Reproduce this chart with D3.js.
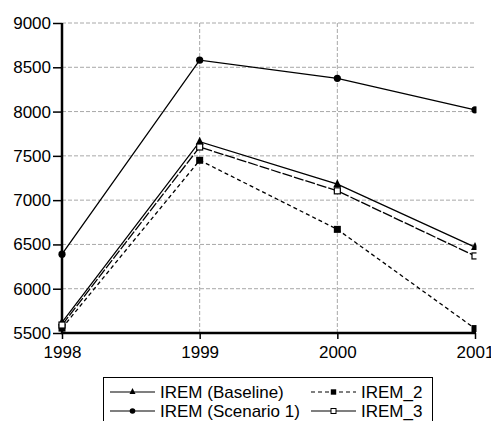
<!DOCTYPE html>
<html><head><meta charset="utf-8">
<script src="https://cdn.jsdelivr.net/npm/d3@7"></script>
<style>body{margin:0;background:#fff}svg{display:block;font-family:"Liberation Sans",Arial,sans-serif}</style>
</head><body><svg id="c" width="491" height="421"></svg>
<script>
const years = [1998, 1999, 2000, 2001];
const yTicks = [5500, 6000, 6500, 7000, 7500, 8000, 8500, 9000];
const baseline = [5620, 7660, 7180, 6470];
const scenario1 = [6390, 8580, 8375, 8020];
const irem2 = [5555, 7450, 6670, 5550];
const irem3 = [5590, 7600, 7105, 6370];
const seriesNames = ["IREM (Baseline)", "IREM (Scenario 1)", "IREM_2", "IREM_3"];

const series = [
  {name: seriesNames[0], values: baseline, dash: null, marker: "tri"},
  {name: seriesNames[1], values: scenario1, dash: null, marker: "circle"},
  {name: seriesNames[2], values: irem2, dash: "4,3", marker: "sq"},
  {name: seriesNames[3], values: irem3, dash: "10,2", marker: "osq"}
];

const FS = 17;
const svg = d3.select("#c");
const x = d3.scaleLinear().domain([1998, 2001]).range([62, 475]);
const y = d3.scaleLinear().domain([5500, 9000]).range([333, 23]);

// grid
const g = svg.append("g");
g.selectAll(".hg").data(yTicks.slice(1)).join("line")
  .attr("x1", 62).attr("x2", 475).attr("y1", d => y(d)).attr("y2", d => y(d))
  .attr("stroke", "#a8a8a8").attr("stroke-width", 1).attr("stroke-dasharray", "4,2");
g.selectAll(".vg").data(years.slice(1, 3)).join("line")
  .attr("x1", d => x(d)).attr("x2", d => x(d)).attr("y1", y(9000)).attr("y2", 333)
  .attr("stroke", "#a8a8a8").attr("stroke-width", 1).attr("stroke-dasharray", "4,2");

// axes
const ya = svg.append("g").attr("transform", "translate(62,0)")
  .call(d3.axisLeft(y).tickValues(yTicks).tickSize(9).tickPadding(2).tickFormat(d3.format("d")));
const xa = svg.append("g").attr("transform", "translate(0,333)")
  .call(d3.axisBottom(x).tickValues(years).tickSize(6).tickPadding(7).tickFormat(d3.format("d")));
[ya, xa].forEach(a => {
  a.select(".domain").remove();
  a.attr("font-size", FS).attr("font-family", "Liberation Sans, Arial, sans-serif");
  a.selectAll("text").attr("fill", "#000");
  a.selectAll("line").attr("stroke", "#000").attr("stroke-width", 1.5);
});
svg.append("line").attr("x1", 62).attr("x2", 62).attr("y1", y(9000)).attr("y2", 334).attr("stroke", "#000").attr("stroke-width", 2.5);
svg.append("line").attr("x1", 61).attr("x2", 476).attr("y1", 333).attr("y2", 333).attr("stroke", "#000").attr("stroke-width", 2.5);

// clip
svg.append("clipPath").attr("id", "clip").append("rect").attr("x", 0).attr("y", 0).attr("width", 476.5).attr("height", 421);
const plot = svg.append("g").attr("clip-path", "url(#clip)");

function drawMarker(sel, type, cx, cy) {
  if (type === "tri") {
    sel.append("path").attr("d", `M${cx},${cy-5}L${cx+4},${cy+3}L${cx-4},${cy+3}Z`).attr("fill", "#000");
  } else if (type === "circle") {
    sel.append("circle").attr("cx", cx).attr("cy", cy).attr("r", 3.6).attr("fill", "#000");
  } else if (type === "sq") {
    sel.append("rect").attr("x", cx-3.5).attr("y", cy-3.5).attr("width", 7).attr("height", 7).attr("fill", "#000");
  } else {
    sel.append("rect").attr("x", cx-3).attr("y", cy-3).attr("width", 6).attr("height", 6).attr("fill", "#fff").attr("stroke", "#000").attr("stroke-width", 1.2);
  }
}

const line = d3.line().x((d, i) => x(years[i])).y(d => y(d));
series.forEach(s => {
  plot.append("path").attr("d", line(s.values)).attr("fill", "none").attr("stroke", "#000")
    .attr("stroke-width", 1.3).attr("stroke-dasharray", s.dash);
});
series.forEach(s => {
  s.values.forEach((v, i) => drawMarker(plot, s.marker, x(years[i]), y(v)));
});

// legend
const lg = svg.append("g");
lg.append("rect").attr("x", 103.5).attr("y", 377.5).attr("width", 329).attr("height", 60).attr("fill", "#fff").attr("stroke", "#000").attr("stroke-width", 1);
const pos = [[110, 392], [110, 411], [311, 392], [311, 411]];
series.forEach((s, i) => {
  const [lx, ly] = pos[i];
  const len = 45;
  lg.append("line").attr("x1", lx).attr("x2", lx + len).attr("y1", ly).attr("y2", ly)
    .attr("stroke", "#000").attr("stroke-width", 1.1).attr("stroke-dasharray", i === 2 ? "4,3" : null);
  const m = lg.append("g");
  const mx = lx + len / 2;
  if (s.marker === "tri") m.append("path").attr("d", `M${mx},${ly-4}L${mx+3},${ly+2}L${mx-3},${ly+2}Z`).attr("fill", "#000");
  else if (s.marker === "circle") m.append("circle").attr("cx", mx).attr("cy", ly).attr("r", 2.8).attr("fill", "#000");
  else if (s.marker === "sq") m.append("rect").attr("x", mx-2.7).attr("y", ly-2.7).attr("width", 5.4).attr("height", 5.4).attr("fill", "#000");
  else m.append("rect").attr("x", mx-2.5).attr("y", ly-2.5).attr("width", 5).attr("height", 5).attr("fill", "#fff").attr("stroke", "#000").attr("stroke-width", 1);
  lg.append("text").attr("x", lx + len + 5).attr("y", ly + 6).attr("font-size", FS).text(s.name);
});
</script></body></html>
